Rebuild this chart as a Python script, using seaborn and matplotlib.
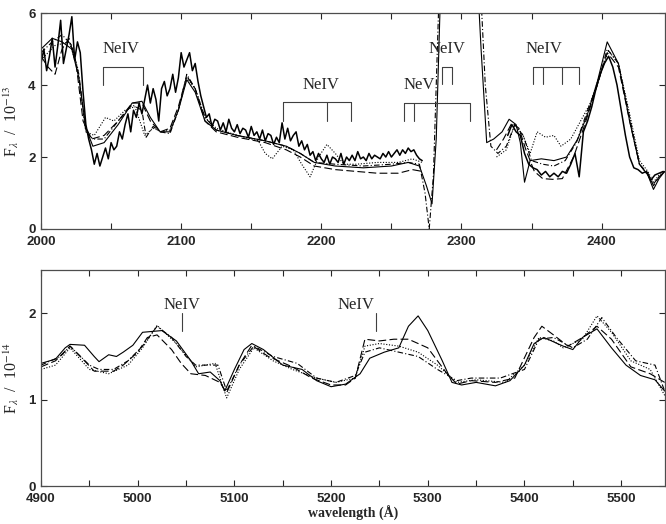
import numpy as np
import matplotlib
matplotlib.use("Agg")
import matplotlib.pyplot as plt
from matplotlib.ticker import MultipleLocator
import seaborn as sns

# ---- top panel: UV spectrum (2000-2445 A), flux in 1e-13 ----
obs_uv_wave1 = np.arange(2000, 2274, 2)
obs_uv_flux1 = [4.6, 5.0, 4.4, 4.8, 5.3, 4.5, 5.1, 5.8, 4.6, 5.0,
                5.4, 5.9, 4.7, 5.2, 4.9, 3.8, 2.9, 2.5, 2.2, 1.8,
                2.1, 1.75, 2.0, 2.25, 1.95, 2.4, 2.2, 2.3, 2.7, 2.5,
                2.9, 3.2, 2.7, 3.3, 3.1, 3.5, 3.2, 3.6, 4.0, 3.5,
                3.9, 3.6, 3.0, 3.9, 4.1, 3.7, 3.9, 4.3, 3.8, 4.2,
                4.9, 4.5, 4.7, 4.9, 4.4, 4.6, 4.1, 3.7, 3.4, 3.1,
                3.2, 2.85, 3.05, 3.0, 2.75, 2.95, 2.7, 3.05, 2.8, 2.7,
                2.9, 2.65, 2.8, 2.75, 2.55, 2.85, 2.6, 2.7, 2.5, 2.75,
                2.45, 2.65, 2.6, 2.35, 2.55, 2.4, 2.95, 2.5, 2.8, 2.45,
                2.6, 2.7, 2.3, 2.45, 2.2, 2.35, 2.05, 2.15, 1.9, 2.1,
                1.95, 1.85, 2.05, 1.8, 2.0, 1.95, 1.85, 2.1, 1.8, 2.0,
                1.9, 2.05, 1.9, 2.15, 1.95, 2.0, 1.9, 2.1, 1.95, 2.05,
                2.0, 1.95, 2.1, 2.0, 2.15, 2.0, 2.1, 2.2, 2.05, 2.2,
                2.1, 2.25, 2.15, 2.2, 2.05, 1.95, 1.9]
obs_uv_wave2 = np.arange(2333, 2446, 3)
obs_uv_flux2 = [2.6, 2.9, 2.7, 2.6, 2.1, 1.8, 1.7, 1.65, 1.5, 1.6,
                1.45, 1.55, 1.45, 1.6, 1.55, 1.8, 2.1, 1.45, 2.7, 3.0,
                3.4, 3.9, 4.3, 4.6, 4.8, 4.5, 4.0, 3.3, 2.6, 2.0,
                1.7, 1.65, 1.55, 1.6, 1.35, 1.5, 1.55, 1.6]

solid_uv_wave = [2000, 2008, 2015, 2022, 2027, 2032, 2037, 2045, 2055, 2065,
                 2072, 2078, 2085, 2092, 2098, 2104, 2110, 2117, 2125, 2140,
                 2160, 2175, 2185, 2195, 2210, 2230, 2250, 2262, 2270, 2275,
                 2279, 2282, 2285, 2290, 2300, 2310, 2314, 2318, 2323, 2329,
                 2334, 2339, 2342, 2345, 2349, 2357, 2366, 2375, 2383, 2390,
                 2397, 2404, 2412, 2420, 2427, 2433, 2437, 2441, 2445]
solid_uv_flux = [5.0, 5.3, 5.2, 5.0, 4.2, 2.8, 2.3, 2.4, 2.9, 3.5,
                 3.55, 3.1, 2.7, 2.7, 3.3, 4.15, 3.8, 3.0, 2.75, 2.6,
                 2.45, 2.3, 2.1, 1.85, 1.75, 1.7, 1.75, 1.85, 1.75, 1.2,
                 0.7, 2.5, 6.5, 8.5, 9.0, 8.0, 5.0, 2.4, 2.5, 2.7,
                 3.05, 2.9, 2.4, 1.3, 1.9, 1.95, 1.9, 2.0, 2.5, 3.2,
                 4.1, 5.2, 4.6, 3.0, 1.8, 1.5, 1.1, 1.4, 1.6]

dash_uv_wave1 = [2000, 2005, 2010, 2015, 2020, 2025, 2030, 2036, 2045, 2055,
                 2065, 2072, 2078, 2085, 2092, 2098, 2104, 2110, 2117, 2125,
                 2140, 2160, 2175, 2185, 2195, 2210, 2225, 2240, 2255, 2265, 2272]
dash_uv_flux1 = [4.8, 4.5, 4.3, 5.0, 5.3, 4.6, 3.0, 2.5, 2.6, 3.0,
                 3.5, 3.5, 3.0, 2.7, 2.8, 3.4, 4.25, 3.9, 3.0, 2.7,
                 2.55, 2.4, 2.2, 2.0, 1.75, 1.65, 1.6, 1.55, 1.55, 1.65, 1.6]
dash_uv_wave2 = [2325, 2330, 2336, 2341, 2346, 2352, 2358, 2365, 2372, 2380,
                 2388, 2396, 2404, 2412, 2420, 2427, 2433, 2437, 2441, 2445]
dash_uv_flux2 = [2.2, 2.5, 2.95, 2.8, 2.2, 1.6, 1.4, 1.38, 1.4, 2.0,
                 2.9, 3.9, 4.9, 4.5, 3.0, 1.8, 1.55, 1.2, 1.45, 1.6]

dot_uv_wave1 = [2000, 2010, 2020, 2026, 2032, 2038, 2046, 2052, 2060, 2067,
                2074, 2080, 2086, 2092, 2098, 2104, 2110, 2117, 2125, 2140,
                2155, 2160, 2165, 2172, 2180, 2186, 2192, 2198, 2204, 2210,
                2216, 2225, 2240, 2255, 2265, 2272]
dot_uv_flux1 = [4.7, 5.1, 5.2, 4.5, 2.7, 2.6, 3.1, 3.0, 3.3, 3.4,
                2.6, 2.8, 2.7, 2.75, 3.3, 4.2, 3.9, 3.1, 2.8, 2.6,
                2.45, 2.1, 1.95, 2.3, 2.2, 1.8, 1.45, 2.0, 2.35, 2.1,
                1.8, 1.8, 1.85, 1.85, 1.95, 1.85]
dot_uv_wave2 = [2325, 2332, 2338, 2344, 2349, 2354, 2360, 2366, 2371, 2378,
                2385, 2392, 2398, 2405, 2412, 2420, 2427, 2433, 2437, 2441, 2445]
dot_uv_flux2 = [2.0, 2.2, 2.9, 2.6, 2.1, 2.7, 2.55, 2.6, 2.3, 2.5,
                3.0, 3.5, 4.2, 4.95, 4.6, 3.2, 1.9, 1.6, 1.3, 1.5, 1.6]

dd_uv_wave = [2000, 2008, 2015, 2022, 2027, 2032, 2037, 2045, 2055, 2065,
              2072, 2075, 2080, 2085, 2092, 2098, 2104, 2110, 2117, 2125,
              2140, 2160, 2175, 2185, 2195, 2210, 2230, 2250, 2262, 2270,
              2274, 2277, 2280, 2284, 2290, 2300, 2312, 2317, 2321, 2326,
              2332, 2338, 2344, 2350, 2358, 2366, 2374, 2382, 2390, 2397,
              2404, 2412, 2420, 2427, 2433, 2437, 2441, 2445]
dd_uv_flux = [4.9, 5.2, 5.4, 5.1, 4.3, 2.7, 2.5, 2.5, 3.0, 3.45,
              3.3, 2.55, 2.85, 2.7, 2.65, 3.3, 4.3, 3.9, 3.1, 2.75,
              2.6, 2.45, 2.3, 2.1, 1.85, 1.8, 1.75, 1.8, 1.85, 1.8,
              1.0, 0.0, 1.5, 6.5, 8.0, 9.0, 8.0, 4.0, 2.3, 2.1,
              2.3, 2.9, 2.6, 1.9, 1.8, 1.75, 1.9, 2.4, 3.3, 4.0,
              5.0, 4.6, 3.1, 1.8, 1.5, 1.25, 1.45, 1.6]

# ---- bottom panel: optical spectrum (4900-5545 A), flux in 1e-14 ----
solid_op_wave = [4900, 4915, 4925, 4930, 4945, 4955, 4960, 4970, 4978, 4985,
                 4995, 5005, 5015, 5025, 5040, 5055, 5063, 5075, 5085, 5090,
                 5100, 5110, 5118, 5130, 5150, 5170, 5185, 5200, 5215, 5230,
                 5240, 5255, 5270, 5280, 5290, 5300, 5315, 5325, 5335, 5350,
                 5370, 5385, 5400, 5410, 5420, 5440, 5450, 5460, 5475, 5490,
                 5505, 5520, 5535, 5545]
solid_op_flux = [1.42, 1.47, 1.6, 1.64, 1.63, 1.5, 1.44, 1.52, 1.5, 1.55,
                 1.63, 1.78, 1.79, 1.8, 1.68, 1.45, 1.3, 1.32, 1.22, 1.1,
                 1.35, 1.58, 1.65, 1.58, 1.4, 1.35, 1.22, 1.15, 1.18, 1.3,
                 1.48, 1.55, 1.6, 1.85, 1.97, 1.8, 1.45, 1.2, 1.17, 1.2,
                 1.16, 1.22, 1.4, 1.65, 1.72, 1.62, 1.58, 1.72, 1.82, 1.6,
                 1.4, 1.28, 1.23, 1.1]
dash_op_wave = [4900, 4915, 4930, 4945, 4955, 4975, 4985, 5000, 5010, 5020,
                5035, 5045, 5055, 5070, 5085, 5092, 5105, 5118, 5135, 5160,
                5180, 5200, 5215, 5225, 5235, 5250, 5265, 5280, 5300, 5320,
                5330, 5345, 5370, 5390, 5410, 5418, 5430, 5445, 5460, 5475,
                5490, 5510, 5530, 5545]
dash_op_flux = [1.38, 1.45, 1.62, 1.45, 1.33, 1.33, 1.4, 1.55, 1.72, 1.75,
                1.58, 1.42, 1.3, 1.28, 1.2, 1.08, 1.4, 1.63, 1.5, 1.38,
                1.25, 1.17, 1.17, 1.25, 1.7, 1.68, 1.7, 1.7, 1.6, 1.3,
                1.18, 1.22, 1.2, 1.25, 1.72, 1.85, 1.75, 1.62, 1.72, 1.85,
                1.7, 1.38, 1.3, 1.2]
dot_op_wave = [4900, 4915, 4930, 4950, 4970, 4990, 5005, 5020, 5040, 5060,
               5080, 5092, 5105, 5120, 5140, 5160, 5185, 5205, 5225, 5235,
               5250, 5270, 5290, 5310, 5330, 5350, 5380, 5400, 5415, 5430,
               5440, 5460, 5475, 5490, 5510, 5530, 5545]
dot_op_flux = [1.35, 1.4, 1.6, 1.35, 1.3, 1.4, 1.6, 1.86, 1.65, 1.38,
               1.42, 1.02, 1.35, 1.6, 1.45, 1.35, 1.25, 1.2, 1.25, 1.62,
               1.65, 1.62, 1.55, 1.4, 1.2, 1.23, 1.2, 1.4, 1.72, 1.68,
               1.6, 1.7, 1.97, 1.78, 1.45, 1.35, 1.05]
dd_op_wave = [4900, 4920, 4930, 4950, 4960, 4975, 4990, 5005, 5020, 5035,
              5050, 5060, 5083, 5092, 5105, 5120, 5140, 5165, 5185, 5205,
              5225, 5235, 5250, 5270, 5290, 5310, 5330, 5345, 5375, 5400,
              5415, 5430, 5450, 5465, 5480, 5495, 5515, 5535, 5545]
dd_op_flux = [1.4, 1.5, 1.62, 1.4, 1.35, 1.35, 1.45, 1.62, 1.85, 1.72,
              1.5, 1.4, 1.4, 1.1, 1.4, 1.62, 1.5, 1.42, 1.25, 1.2,
              1.28, 1.55, 1.6, 1.55, 1.5, 1.35, 1.22, 1.25, 1.25, 1.35,
              1.7, 1.72, 1.6, 1.7, 1.95, 1.72, 1.45, 1.4, 1.1]

# line identifications: (label, label x, label y, line wavelengths, bar y, tick bottom)
uv_ids = [("NeIV", 2057, 5.0, [2044, 2073], 4.5, 4.0),
          ("NeIV", 2200, 4.0, [2173, 2204, 2221], 3.53, 3.0),
          ("NeV", 2270, 4.0, [2259, 2266, 2306], 3.5, 3.0),
          ("NeIV", 2290, 5.0, [2286, 2293], 4.5, 4.03),
          ("NeIV", 2359, 5.0, [2351, 2358, 2372, 2384], 4.5, 4.03)]
op_ids = [("NeIV", 5046, 2.1, 5046, 2.0, 1.79),
          ("NeIV", 5226, 2.1, 5246, 2.0, 1.8)]

sns.set_style("ticks")
plt.rcParams['font.family'] = ['Liberation Sans', 'DejaVu Sans']
plt.rcParams['mathtext.fontset'] = 'stix'

fig = plt.figure(figsize=(6.66, 5.24), dpi=100)
ax1 = fig.add_axes([0.0616, 0.563, 0.9364, 0.412])
ax2 = fig.add_axes([0.0616, 0.0725, 0.9364, 0.412])

lw_m = 0.8
dash = (0, (7, 3))
dot = (0, (1, 1.5))
dashdot = (0, (5, 2, 1, 2))

# top panel
sns.lineplot(x=obs_uv_wave1, y=obs_uv_flux1, ax=ax1, color='k', lw=1.1, sort=False)
sns.lineplot(x=obs_uv_wave2, y=obs_uv_flux2, ax=ax1, color='k', lw=1.1, sort=False)
sns.lineplot(x=solid_uv_wave, y=solid_uv_flux, ax=ax1, color='k', lw=lw_m, sort=False)
for w, f in [(dash_uv_wave1, dash_uv_flux1), (dash_uv_wave2, dash_uv_flux2)]:
    sns.lineplot(x=w, y=f, ax=ax1, color='k', lw=lw_m, linestyle=dash, sort=False)
for w, f in [(dot_uv_wave1, dot_uv_flux1), (dot_uv_wave2, dot_uv_flux2)]:
    sns.lineplot(x=w, y=f, ax=ax1, color='k', lw=lw_m, linestyle=dot, sort=False)
sns.lineplot(x=dd_uv_wave, y=dd_uv_flux, ax=ax1, color='k', lw=lw_m, linestyle=dashdot, sort=False)

for lab, tx, ty, waves, ybar, ybot in uv_ids:
    ax1.plot([waves[0], waves[-1]], [ybar, ybar], color='0.25', lw=0.8)
    for w in waves:
        ax1.plot([w, w], [ybar, ybot], color='0.25', lw=0.8)
    ax1.text(tx, ty, lab, ha='center', va='center', fontsize=12,
             family='Liberation Serif')

ax1.set_xlim(2000, 2445)
ax1.set_ylim(0, 6)
ax1.xaxis.set_major_locator(MultipleLocator(100))
ax1.xaxis.set_minor_locator(MultipleLocator(50))
ax1.yaxis.set_major_locator(MultipleLocator(2))
ax1.set_ylabel(r'F$_\lambda$  /  10$^{-13}$', fontsize=11.5, family='Liberation Serif')

# bottom panel
sns.lineplot(x=solid_op_wave, y=solid_op_flux, ax=ax2, color='k', lw=lw_m, sort=False)
sns.lineplot(x=dash_op_wave, y=dash_op_flux, ax=ax2, color='k', lw=lw_m, linestyle=dash, sort=False)
sns.lineplot(x=dot_op_wave, y=dot_op_flux, ax=ax2, color='k', lw=lw_m, linestyle=dot, sort=False)
sns.lineplot(x=dd_op_wave, y=dd_op_flux, ax=ax2, color='k', lw=lw_m, linestyle=dashdot, sort=False)

for lab, tx, ty, w, ytop, ybot in op_ids:
    ax2.plot([w, w], [ytop, ybot], color='0.25', lw=0.8)
    ax2.text(tx, ty, lab, ha='center', va='center', fontsize=12,
             family='Liberation Serif')

ax2.set_xlim(4900, 5545)
ax2.set_ylim(0, 2.5)
ax2.xaxis.set_major_locator(MultipleLocator(100))
ax2.xaxis.set_minor_locator(MultipleLocator(50))
ax2.yaxis.set_major_locator(MultipleLocator(1))
ax2.set_ylabel(r'F$_\lambda$  /  10$^{-14}$', fontsize=11.5, family='Liberation Serif')
ax2.set_xlabel('wavelength (Å)', fontsize=10, family='Liberation Serif',
               fontweight='bold', labelpad=1)

for ax in (ax1, ax2):
    ax.yaxis.set_label_coords(-0.032, 0.5)
    ax.tick_params(which='both', direction='in', top=True, right=True,
                   length=4, width=0.8, labelsize=9.5)
    ax.tick_params(axis='x', pad=5)
    ax.tick_params(axis='y', pad=4)
    for lbl in ax.get_xticklabels() + ax.get_yticklabels():
        lbl.set_fontweight('bold')
    for s in ax.spines.values():
        s.set_linewidth(0.9)
        s.set_color('0.3')

fig.savefig("out.png", dpi=100)
